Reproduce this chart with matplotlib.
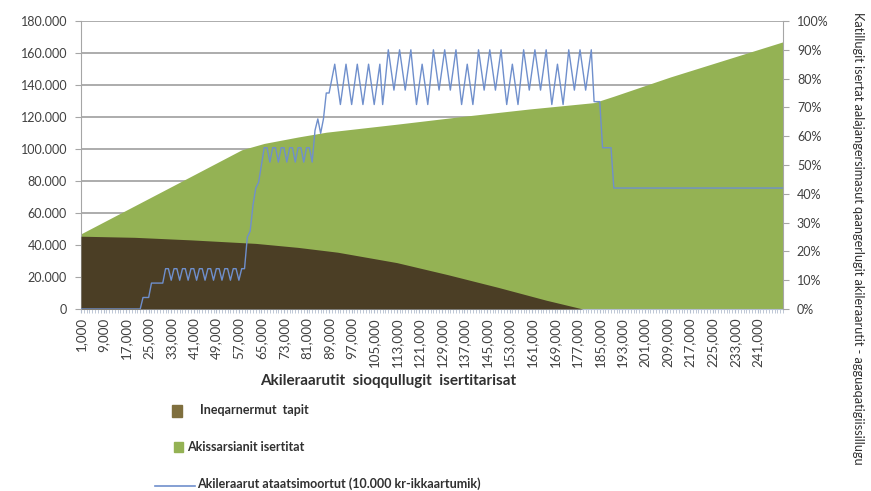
import matplotlib.pyplot as plt
from matplotlib.ticker import FuncFormatter
from matplotlib.patches import Rectangle
from matplotlib.lines import Line2D

plt.rcParams['font.family'] = ['Lato', 'DejaVu Sans']

# pre-tax income categories, 1.000 - 250.000 kr
income = list(range(1000, 251000, 1000))

# green area: income (thousand kr) -> amount
green_inc = [1, 36, 58, 66, 78, 88, 113, 137, 160, 183, 190, 210, 250]
green_val = [47000, 79200, 99500, 103500, 107500, 110500, 115500, 120500,
             125000, 129000, 133000, 145000, 167000]

# brown area: housing subsidy
brown_inc = [1, 20, 40, 63, 78, 92, 113, 131, 149, 166, 179, 250]
brown_val = [45500, 44800, 43200, 41000, 38500, 35500, 29000, 21500,
             13500, 5500, 0, 0]

# blue line: combined tax in %, one value per income category
tax_pct = [
    0, 0, 0, 0, 0, 0, 0, 0, 0, 0, 0, 0, 0, 0, 0, 0, 0, 0, 0, 0, 0, 0,
    4, 4, 4, 9, 9, 9, 9, 9,
    14, 14, 10, 14, 14, 10, 14, 14, 10, 14, 14, 10, 14, 14, 10,
    14, 14, 10, 14, 14, 10, 14, 14, 10, 14, 14, 10, 14, 14,
    25, 27, 36, 42, 44, 50,
    56, 56, 51, 56, 56, 51, 56, 56, 51, 56, 56, 51, 56, 56, 51, 56, 56, 51,
    62, 66, 61, 66, 75, 75,
    80, 85, 78, 71, 78, 85, 78, 71, 78, 85, 78, 71, 78, 85, 78, 71, 78, 85,
    71, 80, 90, 83, 76, 83, 90, 83, 76, 83, 90, 80, 71, 78, 85, 78,
    71, 80, 90, 83, 76, 83, 90, 83, 76, 83, 90, 80, 71, 78, 85, 78,
    71, 80, 90, 83, 76, 83, 90, 83, 76, 83, 90, 80, 71, 78, 85, 78,
    71, 80, 90, 83, 76, 83, 90, 83, 76, 83, 90, 80, 71, 78, 85, 78,
    71, 80, 90, 83, 76, 83, 90, 83, 76, 83, 90,
    72, 72, 72, 56, 56, 56, 56,
    42, 42, 42, 42, 42, 42, 42, 42, 42, 42, 42, 42, 42, 42, 42, 42,
    42, 42, 42, 42, 42, 42, 42, 42, 42, 42, 42, 42, 42, 42, 42, 42,
    42, 42, 42, 42, 42, 42, 42, 42, 42, 42, 42, 42, 42, 42, 42, 42,
    42, 42, 42, 42, 42, 42, 42, 42, 42, 42, 42, 42, 42,
]

label_brown = 'Ineqarnermut  tapit'
label_green = 'Akissarsianit isertitat'
label_blue = 'Akileraarut ataatsimoortut (10.000 kr-ikkaartumik)'
x_title = 'Akileraarutit  sioqqullugit  isertitarisat'
y2_title = ('Katillugit isertat aalajangersimasut qaangerlugit '
            'akileraarutit - agguaqatigiissillugu')

green = '#94b254'
brown = '#4b3e25'
blue = '#6f8fcc'
grey = '#a6a6a6'
txt = '#404040'

fig = plt.figure(figsize=(8.71, 4.91), dpi=100)
ax = fig.add_axes([81 / 871, 1 - 309 / 491, 702 / 871, 288 / 491])

# category position = index in income list
gx = [v - 1 for v in green_inc]
bx = [v - 1 for v in brown_inc]
ax.fill_between(gx, 0, green_val, color=green, lw=0, zorder=2)
ax.fill_between(bx, 0, brown_val, color=brown, lw=0, zorder=3)

ax.set_xlim(0, len(income) - 1)
ax.set_ylim(0, 180000)
ax.set_yticks(range(0, 180001, 20000))
ax.yaxis.set_major_formatter(FuncFormatter(lambda v, p: f'{v:,.0f}'.replace(',', '.')))
ax.yaxis.grid(True, color=grey, lw=1.3)
ax.set_axisbelow(True)

major = list(range(0, 241, 8))
ax.set_xticks(major)
ax.set_xticklabels([f'{income[i]:,}' for i in major], rotation=90)
ax.set_xticks(range(len(income)), minor=True)
ax.tick_params(axis='x', which='both', length=3, color='#b4bfd0', labelsize=9.6,
               labelcolor=txt, pad=3)
ax.tick_params(axis='y', length=4, color=grey, labelsize=9, labelcolor=txt, pad=6)

for s in ['top', 'right']:
    ax.spines[s].set_visible(False)
ax.spines['left'].set_color(grey)
ax.spines['bottom'].set_color('#b4bfd0')

ax2 = ax.twinx()
ax2.plot(range(len(income)), [v / 100 for v in tax_pct], color=blue, lw=1.0)
ax2.set_ylim(0, 1)
ax2.set_yticks([i / 10 for i in range(11)])
ax2.yaxis.set_major_formatter(FuncFormatter(lambda v, p: f'{v * 100:.0f}%'))
ax2.tick_params(axis='y', length=4, color=grey, labelsize=9, labelcolor=txt, pad=6)
for s in ['top', 'left', 'bottom']:
    ax2.spines[s].set_visible(False)
ax2.spines['right'].set_color(grey)

fig.text(388 / 871, 1 - 381 / 491, x_title, ha='center', va='center',
         fontsize=11, fontweight='bold', color='#303030')
fig.text(858 / 871, 1 - 238 / 491, y2_title, ha='center', va='center',
         rotation=-90, fontsize=9.2, color='#303030')

# legend drawn by hand, stacked below the plot
fig.patches.append(Rectangle((172 / 871, 1 - 417 / 491), 10 / 871, 12 / 491,
                             transform=fig.transFigure, color='#7f6f3e'))
fig.text(200 / 871, 1 - 410 / 491, label_brown, va='center', fontsize=9,
         fontweight='bold', color='#303030')
fig.patches.append(Rectangle((174 / 871, 1 - 452 / 491), 9 / 871, 10 / 491,
                             transform=fig.transFigure, color=green))
fig.text(187 / 871, 1 - 447 / 491, label_green, va='center', fontsize=9,
         fontweight='bold', color='#303030')
fig.lines.append(Line2D([155 / 871, 195 / 871], [1 - 486 / 491, 1 - 486 / 491],
                        transform=fig.transFigure, color=blue, lw=1.2))
fig.text(197 / 871, 1 - 484 / 491, label_blue, va='center', fontsize=9,
         fontweight='bold', color='#303030')

fig.savefig('out.png', dpi=100)
